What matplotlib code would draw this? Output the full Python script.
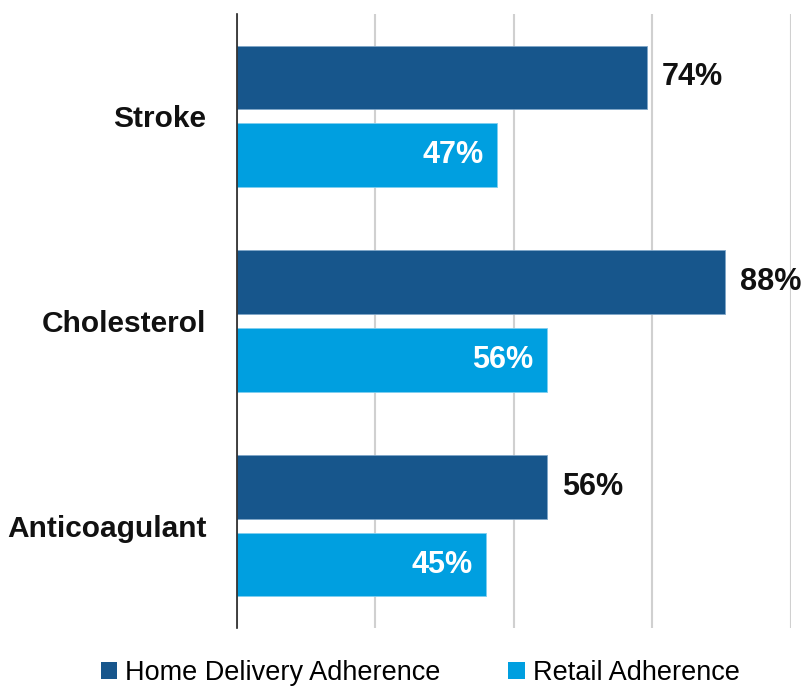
import matplotlib
matplotlib.use("Agg")
import matplotlib.pyplot as plt
import numpy as np
from matplotlib.patches import Patch

categories = ["Stroke", "Cholesterol", "Anticoagulant"]
home_delivery = [74, 88, 56]
retail = [47, 56, 45]
series_names = ["Home Delivery Adherence", "Retail Adherence"]

dark = "#17568C"
light = "#009FE0"

plt.rcParams['font.family'] = ['Liberation Sans Narrow', 'Liberation Sans', 'DejaVu Sans']

fig = plt.figure(figsize=(8.05, 6.87), dpi=100)
ax = fig.add_axes([0.2944, 0.0859, 0.9826 - 0.2944, 0.9796 - 0.0859])

y = np.arange(len(categories))
h = 0.312
off = 0.19
ax.barh(y - off, home_delivery, height=h, color=dark, edgecolor="#7FA6C8", linewidth=0.6, zorder=3)
ax.barh(y + off, retail, height=h, color=light, edgecolor="#7FCFEF", linewidth=0.6, zorder=3)

for yi, v in zip(y, home_delivery):
    ax.annotate(f"{v}%", xy=(v, yi - off), xytext=(11, 0), textcoords="offset points",
                ha="left", va="center", fontsize=22, fontweight="bold", color="#111111")
for yi, v in zip(y, retail):
    ax.annotate(f"{v}%", xy=(v, yi + off), xytext=(-10, 0), textcoords="offset points",
                ha="right", va="center", fontsize=22, fontweight="bold", color="white")

ax.set_xlim(0, 99.6)
ax.set_ylim(2.5, -0.5)
ax.set_xticks([0, 25, 50, 75, 100])
ax.set_xticklabels([])
ax.tick_params(axis="x", length=0)
ax.grid(axis="x", color="#D0D0D0", linewidth=1.5, zorder=0)
ax.set_yticks(y)
ax.set_yticklabels(categories, fontsize=21.5, fontweight="bold", color="#111111")
ax.tick_params(axis="y", length=0, pad=22)
for s in ["top", "right", "bottom"]:
    ax.spines[s].set_visible(False)
ax.spines["left"].set_color("#222222")
ax.spines["left"].set_linewidth(1.2)
ax.spines["left"].set_zorder(4)

handles = [Patch(facecolor=dark), Patch(facecolor=light)]
fig.legend(handles, series_names, loc="center", bbox_to_anchor=(0.522, 0.02), ncol=2,
           frameon=False, fontsize=19.5, handlelength=0.6, handleheight=0.6,
           handletextpad=0.3, columnspacing=2.5)

fig.savefig("out.png", dpi=100)
